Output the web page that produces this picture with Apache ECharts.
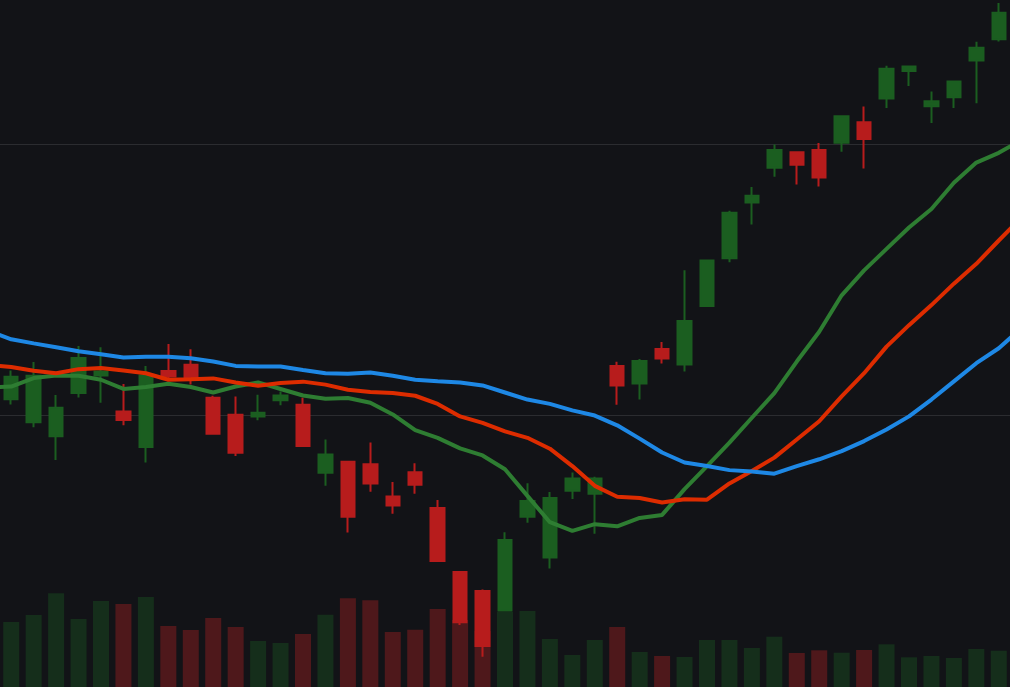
<!DOCTYPE html>
<html lang="en">
<head>
    <meta charset="UTF-8">
    <title>Candles</title>
    <script src="https://cdn.jsdelivr.net/npm/echarts@6/dist/echarts.min.js"></script>
    <style>
        html, body { margin: 0; padding: 0; background: #121317; }
        #main { width: 1010px; height: 687px; }
    </style>
</head>
<body>
    <div id="main"></div>
    <script>
        // first and last entries sit just outside the visible window (line ends only)
        const days = [];
        for (let d = 0; d < 47; d++) days.push('D' + d);

        const opens  = ['-', 100.60, 99.75, 99.24, 100.83, 101.48, 100.15, 98.84, 101.64, 101.87, 100.66,
                        100.03, 99.97, 100.56, 100.40, 97.89, 98.30, 98.21, 97.02, 97.91, 96.59,
                        94.24, 93.54, 92.82, 96.27, 94.77, 97.23, 97.12, 101.83, 101.18, 102.45,
                        101.88, 104.04, 105.80, 107.85, 109.13, 109.70, 109.78, 110.05, 110.81, 111.68,
                        112.69, 111.40, 111.73, 113.08, 113.86, '-'];
        const closes = ['-', 101.43, 101.47, 100.29, 102.12, 101.62, 99.84, 101.48, 101.44, 101.38, 99.33,
                        98.63, 100.10, 100.74, 98.88, 98.57, 96.27, 97.50, 96.69, 97.45, 94.64,
                        92.39, 91.51, 95.42, 96.85, 96.96, 97.68, 97.68, 101.11, 102.01, 102.10,
                        103.48, 105.71, 107.47, 108.10, 109.78, 109.24, 108.77, 111.03, 110.19, 112.78,
                        112.86, 111.58, 112.31, 113.55, 114.84, '-'];
        const lows   = ['-', 100.41, 99.57, 98.36, 100.67, 100.47, 99.64, 98.27, 101.32, 101.14, 99.30,
                        98.51, 99.83, 100.38, 98.85, 97.41, 95.69, 97.19, 96.38, 97.12, 94.64,
                        92.28, 91.11, 92.82, 96.05, 94.37, 96.93, 95.65, 100.40, 100.59, 101.92,
                        101.62, 104.00, 105.65, 107.04, 108.80, 108.51, 108.44, 109.72, 109.10, 111.33,
                        112.14, 110.78, 111.33, 111.51, 113.78, '-'];
        const highs  = ['-', 101.66, 101.97, 100.76, 102.56, 102.52, 101.16, 101.83, 102.64, 102.44, 100.73,
                        100.70, 100.77, 100.89, 100.66, 99.12, 98.30, 99.01, 97.55, 98.24, 96.89,
                        94.24, 93.59, 95.70, 97.51, 97.18, 97.90, 97.75, 101.98, 102.08, 102.71,
                        105.35, 105.71, 107.55, 108.42, 109.99, 109.74, 110.04, 111.05, 111.39, 112.89,
                        112.89, 111.94, 112.34, 113.77, 115.20, '-'];
        const volumes = ['-', 650, 720, 937, 680, 860, 830, 900, 610, 570, 690,
                         600, 460, 440, 530, 723, 887, 867, 550, 573, 780,
                         670, 560, 750, 760, 480, 320, 470, 600, 350, 310,
                         300, 470, 470, 390, 503, 340, 367, 343, 370, 427,
                         297, 310, 290, 380, 363, '-'];

        const maFast = [101.03, 101.07, 101.38, 101.48, 101.47, 101.32, 100.98, 101.05, 101.17, 101.05, 100.85,
                        101.07, 101.22, 100.98, 100.74, 100.62, 100.65, 100.47, 100.04, 99.46, 99.18,
                        98.79, 98.53, 98.02, 97.04, 96.07, 95.75, 96.00, 95.92, 96.23, 96.34,
                        97.29, 98.14, 99.00, 99.92, 100.83, 101.99, 103.09, 104.43, 105.35, 106.14,
                        106.93, 107.61, 108.58, 109.32, 109.68, 110.15];
        const maMid  = [101.87, 101.79, 101.65, 101.56, 101.71, 101.75, 101.66, 101.56, 101.32, 101.34, 101.37,
                        101.22, 101.10, 101.20, 101.25, 101.14, 100.95, 100.87, 100.83, 100.73, 100.43,
                        99.97, 99.73, 99.42, 99.18, 98.78, 98.14, 97.41, 97.01, 96.96, 96.80,
                        96.92, 96.90, 97.50, 97.96, 98.45, 99.12, 99.79, 100.71, 101.56, 102.54,
                        103.33, 104.07, 104.86, 105.59, 106.45, 107.29];
        const maSlow = [103.11, 102.81, 102.66, 102.52, 102.37, 102.26, 102.14, 102.17, 102.17, 102.11, 101.99,
                        101.83, 101.81, 101.81, 101.68, 101.56, 101.54, 101.59, 101.47, 101.32, 101.26,
                        101.22, 101.11, 100.85, 100.59, 100.43, 100.19, 100.00, 99.64, 99.15, 98.64,
                        98.27, 98.14, 97.99, 97.94, 97.86, 98.14, 98.39, 98.69, 99.06, 99.49,
                        99.97, 100.59, 101.26, 101.93, 102.48, 103.22];

        const upColor = '#1b5e20';
        const downColor = '#b71c1c';
        const gridLine = '#2b2c30';

        const candleData = days.map((d, i) =>
            opens[i] === '-' ? '-' : [opens[i], closes[i], lows[i], highs[i]]);
        const volumeData = days.map((d, i) => {
            if (volumes[i] === '-') return '-';
            return {
                value: volumes[i],
                itemStyle: { color: closes[i] >= opens[i] ? '#152e1b' : '#4e181b' }
            };
        });

        const maLine = (name, data, color) => ({
            name: name,
            type: 'line',
            data: data,
            xAxisIndex: 0,
            yAxisIndex: 0,
            symbol: 'none',
            smooth: false,
            z: 5,
            lineStyle: { color: color, width: 4 }
        });

        const chart = echarts.init(document.getElementById('main'));
        chart.setOption({
            animation: false,
            backgroundColor: '#121317',
            grid: [
                { left: 0, right: 0, top: -2, height: 691 },
                { left: 0, right: 0, bottom: 0, height: 100 }
            ],
            dataZoom: [{
                type: 'inside',
                xAxisIndex: [0, 1],
                startValue: 1,
                endValue: 45,
                filterMode: 'none',
                disabled: true
            }],
            xAxis: [
                { type: 'category', data: days, gridIndex: 0, boundaryGap: true, show: false },
                { type: 'category', data: days, gridIndex: 1, boundaryGap: true, show: false }
            ],
            yAxis: [
                {
                    type: 'value', gridIndex: 0, min: 90, max: 115.31, interval: 10,
                    axisLine: { show: false }, axisTick: { show: false }, axisLabel: { show: false },
                    // only the 100 and 110 lines are visible in the picture
                    splitLine: { lineStyle: { color: ['rgba(0,0,0,0)', gridLine, gridLine, 'rgba(0,0,0,0)'], width: 1 } }
                },
                {
                    type: 'value', gridIndex: 1, min: 0, max: 1000,
                    axisLine: { show: false }, axisTick: { show: false }, axisLabel: { show: false },
                    splitLine: { show: false }
                }
            ],
            series: [
                {
                    name: 'Volume',
                    type: 'bar',
                    xAxisIndex: 1,
                    yAxisIndex: 1,
                    barWidth: 16,
                    z: 1,
                    data: volumeData
                },
                {
                    name: 'Price',
                    type: 'candlestick',
                    xAxisIndex: 0,
                    yAxisIndex: 0,
                    barWidth: 14,
                    z: 3,
                    data: candleData,
                    itemStyle: {
                        color: upColor,
                        color0: downColor,
                        borderColor: upColor,
                        borderColor0: downColor,
                        borderWidth: 2
                    }
                },
                maLine('MA fast', maFast, '#2e7d32'),
                maLine('MA mid', maMid, '#dd2c00'),
                maLine('MA slow', maSlow, '#1e88e5')
            ]
        });
    </script>
</body>
</html>
